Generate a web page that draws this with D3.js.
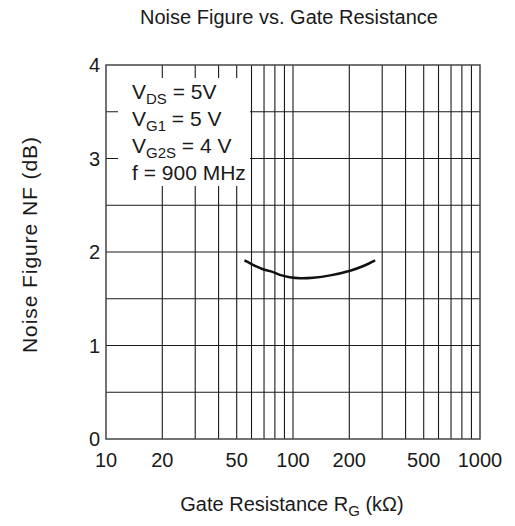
<!DOCTYPE html>
<html>
<head>
<meta charset="utf-8">
<script src="https://cdn.jsdelivr.net/npm/d3@7"></script>
<style>
  body { margin: 0; background: #fff; }
  text { font-family: "Liberation Sans", Arial, sans-serif; fill: #1a1a1a; }
</style>
</head>
<body>
<div class="chart"></div>
<script>
// curve
const rg_values = [55, 63, 69, 77, 85, 96, 109, 128, 158, 202, 238, 275]
const nf_values = [1.91, 1.85, 1.815, 1.79, 1.755, 1.73, 1.72, 1.725, 1.75, 1.80, 1.85, 1.91]
const x_ticks = [10, 20, 50, 100, 200, 500, 1000]
const y_ticks = [0, 1, 2, 3, 4]
const x_grid = [20, 30, 40, 50, 60, 70, 80, 90, 100, 200, 300, 400, 500, 600, 700, 800, 900]
const y_grid = [0.5, 1, 1.5, 2, 2.5, 3, 3.5]
const notes = [
    { main: "V", sub: "DS", rest: " = 5V" },
    { main: "V", sub: "G1", rest: " = 5 V" },
    { main: "V", sub: "G2S", rest: " = 4 V" },
    { main: "f = 900 MHz", sub: "", rest: "" }
]

const width = 515;
const height = 526;
const m_left = 106, m_right = 480, m_top = 65, m_bottom = 439;

const svg = d3.select(".chart").append("svg").attr("width", width).attr("height", height)

const x_scale = d3.scaleLog().domain([10, 1000]).range([m_left, m_right]);
const y_scale = d3.scaleLinear().domain([0, 4]).range([m_bottom, m_top]);

// grid
svg.append("g").selectAll("line")
    .data(x_grid)
    .join("line")
    .attr("x1", d => x_scale(d)).attr("x2", d => x_scale(d))
    .attr("y1", m_top).attr("y2", m_bottom)
    .attr("stroke", "#1a1a1a").attr("stroke-width", 1.1);

svg.append("g").selectAll("line")
    .data(y_grid)
    .join("line")
    .attr("x1", m_left).attr("x2", m_right)
    .attr("y1", d => y_scale(d)).attr("y2", d => y_scale(d))
    .attr("stroke", "#1a1a1a").attr("stroke-width", 1.1);

// white box behind the conditions
svg.append("rect")
    .attr("x", m_left + 12).attr("y", m_top + 13)
    .attr("width", 132).attr("height", 108)
    .attr("fill", "white");

svg.append("rect")
    .attr("x", m_left).attr("y", m_top)
    .attr("width", m_right - m_left).attr("height", m_bottom - m_top)
    .attr("fill", "none").attr("stroke", "#444").attr("stroke-width", 1.5);

// curve
const pts = rg_values.map((r, i) => [r, nf_values[i]])
const line = d3.line()
    .x(d => x_scale(d[0]))
    .y(d => y_scale(d[1]))
    .curve(d3.curveCatmullRom);
svg.append("path")
    .attr("d", line(pts))
    .attr("fill", "none")
    .attr("stroke", "#111")
    .attr("stroke-width", 2.5);

// tick labels
svg.append("g").selectAll("text")
    .data(x_ticks)
    .join("text")
    .attr("x", d => x_scale(d))
    .attr("y", m_bottom + 28)
    .attr("text-anchor", "middle")
    .attr("font-size", 20)
    .text(d => d);

svg.append("g").selectAll("text")
    .data(y_ticks)
    .join("text")
    .attr("x", m_left - 6)
    .attr("y", d => y_scale(d) + 7)
    .attr("text-anchor", "end")
    .attr("font-size", 20)
    .text(d => d);

// conditions
const note = svg.append("g").selectAll("text")
    .data(notes)
    .join("text")
    .attr("x", m_left + 26)
    .attr("y", (d, i) => m_top + 34 + i * 27)
    .attr("font-size", 21);
note.append("tspan").text(d => d.main);
note.append("tspan").attr("font-size", 15).attr("dy", 5).text(d => d.sub);
note.append("tspan").attr("dy", d => d.sub ? -5 : 0).text(d => d.rest);

// titles
svg.append("text")
    .attr("x", 289).attr("y", 24)
    .attr("text-anchor", "middle")
    .attr("font-size", 20)
    .text("Noise Figure vs. Gate Resistance");

const xl = svg.append("text")
    .attr("x", 292).attr("y", 511)
    .attr("text-anchor", "middle")
    .attr("font-size", 20);
xl.append("tspan").text("Gate Resistance R");
xl.append("tspan").attr("font-size", 15).attr("dy", 5).text("G");
xl.append("tspan").attr("dy", -5).text(" (k\u03A9)");

svg.append("text")
    .attr("transform", "translate(37," + (y_scale(2) - 7) + ") rotate(-90)")
    .attr("text-anchor", "middle")
    .attr("font-size", 21)
    .attr("textLength", 216)
    .attr("lengthAdjust", "spacing")
    .text("Noise Figure NF (dB)");
</script>
</body>
</html>
